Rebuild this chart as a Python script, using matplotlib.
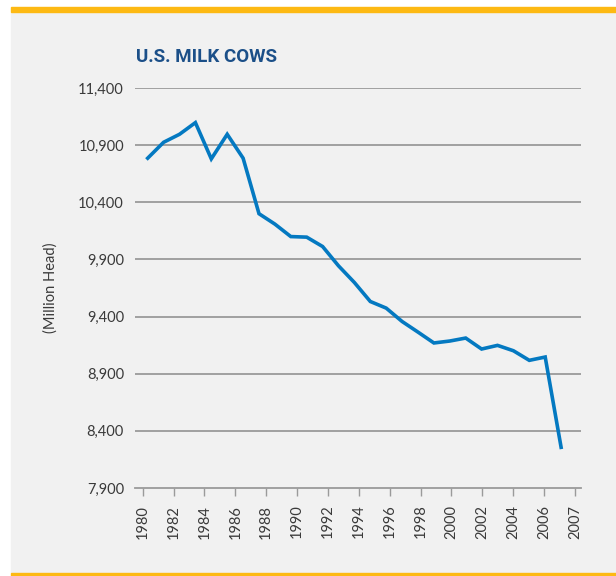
import numpy as np
import matplotlib
matplotlib.use("Agg")
from matplotlib import pyplot as plt
from matplotlib.patches import Rectangle

# U.S. milk cows, thousand head
years = list(range(1980, 2007))
cows = [10786, 10925, 10995, 11097, 10780, 10995, 10786, 10300,
        10209, 10100, 10095, 10013, 9844, 9698, 9532, 9474,
        9357, 9264, 9169, 9186, 9212, 9116, 9148, 9101,
        9017, 9046, 8256]

tick_labels = ["1980", "1982", "1984", "1986", "1988", "1990", "1992", "1994",
               "1996", "1998", "2000", "2002", "2004", "2006", "2007"]
y_ticks = [7900, 8400, 8900, 9400, 9900, 10400, 10900, 11400]

plt.rcParams['font.family'] = ['Lato', 'DejaVu Sans']

fig = plt.figure(figsize=(6.16, 5.76), dpi=100)
fig.patch.set_facecolor('white')

W, H = 616, 576
# gray panel with orange rules top and bottom
fig.patches.append(Rectangle((10.5 / W, 3.3 / H), 1, (564 - 3.3) / H,
                             transform=fig.transFigure, color='#f1f1f1', zorder=-2))
fig.patches.append(Rectangle((10.5 / W, (576 - 12) / H), 1, 5.3 / H,
                             transform=fig.transFigure, color='#fdb913', zorder=-1))
fig.patches.append(Rectangle((10.5 / W, 0), 1, 3.3 / H,
                             transform=fig.transFigure, color='#fdb913', zorder=-1))

ax = fig.add_axes([135 / W, 1 - 488 / H, (581 - 135) / W, (488 - 88) / H])
ax.set_facecolor('none')
ax.set_zorder(2)

ax.plot(years, cows, color='#0479c1', linewidth=2.6, solid_joinstyle='miter', zorder=3)

px_per_year = 15.9
x0 = 1980 - (147.7 - 135) / px_per_year
x1 = 1980 + (581 - 147.7) / px_per_year
ax.set_xlim(x0, x1)
ax.set_ylim(7900, 11400)

tick_first = 1980 - (147.7 - 142.7) / px_per_year
tick_last = 1980 + (575 - 147.7) / px_per_year
ax.set_xticks(np.linspace(tick_first, tick_last, len(tick_labels)))
ax.set_xticklabels(tick_labels, rotation=90, fontsize=10.5, color='#3a3a3a')

ax.set_yticks(y_ticks)
ax.set_yticklabels([f"{v:,}" for v in y_ticks], fontsize=10.5, color='#3a3a3a')

for v in y_ticks[1:]:
    ax.axhline(v, color='#9a9a9a', linewidth=1.3, zorder=1)

for side in ['top', 'right', 'left']:
    ax.spines[side].set_visible(False)
ax.spines['bottom'].set_color('#9a9a9a')
ax.spines['bottom'].set_linewidth(1.3)

ax.tick_params(axis='x', length=6, width=1, color='#9a9a9a', pad=6)
ax.tick_params(axis='y', length=0, pad=8)

ax.set_ylabel("(Million Head)", fontsize=10.5, color='#3a3a3a', labelpad=15)

fig.text(136 / W, 1 - 62 / H, "U.S. MILK COWS", fontsize=13.5, fontweight='bold',
         family=['Roboto', 'DejaVu Sans'], color='#1b4f88', ha='left', va='baseline')

plt.savefig("out.png", dpi=100)
plt.close()
